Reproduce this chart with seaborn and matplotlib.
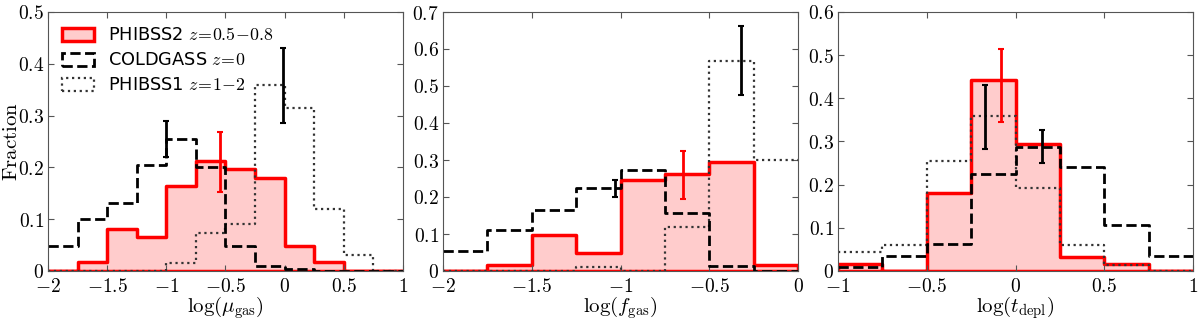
import numpy as np
import matplotlib
matplotlib.use('Agg')
import matplotlib.pyplot as plt
import matplotlib.patches as mpatches
from matplotlib.ticker import FuncFormatter, MultipleLocator
import seaborn as sns

# bin edges of each panel
edges_mu = np.arange(-2.0, 1.001, 0.25)
edges_f = np.arange(-2.0, 0.001, 0.25)
edges_t = np.arange(-1.0, 1.001, 0.25)

# fractions per bin
phibss2_mu = [0, 0.017, 0.082, 0.066, 0.164, 0.213, 0.197, 0.180, 0.049, 0.017, 0, 0]
coldgass_mu = [0.049, 0.100, 0.131, 0.205, 0.254, 0.200, 0.049, 0.010, 0.003, 0, 0, 0]
phibss1_mu = [0, 0, 0, 0, 0.016, 0.074, 0.090, 0.360, 0.315, 0.120, 0.030, 0]

phibss2_f = [0, 0.016, 0.098, 0.049, 0.246, 0.262, 0.295, 0.016]
coldgass_f = [0.053, 0.110, 0.165, 0.223, 0.272, 0.157, 0.014, 0]
phibss1_f = [0, 0, 0, 0.012, 0, 0.118, 0.567, 0.300]

phibss2_t = [0.016, 0, 0.180, 0.443, 0.295, 0.033, 0.016, 0]
coldgass_t = [0.010, 0.035, 0.063, 0.224, 0.288, 0.240, 0.107, 0.035]
phibss1_t = [0.045, 0.060, 0.254, 0.358, 0.193, 0.060, 0.013, 0]

# error bars: (x, y, err, colour)
err_mu = [(-1.0, 0.255, 0.035, 'k'), (-0.55, 0.210, 0.058, 'r'), (-0.01, 0.358, 0.073, 'k')]
err_f = [(-1.03, 0.223, 0.023, 'k'), (-0.65, 0.260, 0.065, 'r'), (-0.32, 0.568, 0.093, 'k')]
err_t = [(-0.17, 0.357, 0.074, 'k'), (-0.08, 0.430, 0.085, 'r'), (0.15, 0.288, 0.038, 'k')]

plt.rcParams['mathtext.fontset'] = 'cm'
plt.rcParams['font.family'] = ['DejaVu Sans']

fig = plt.figure(figsize=(12, 3.19), dpi=100)
lefts = [48, 443, 838]
axes = [fig.add_axes([l / 1200, 48 / 319, 355 / 1200, 259 / 319]) for l in lefts]

panels = [
    (edges_mu, phibss2_mu, coldgass_mu, phibss1_mu, err_mu, (-2, 1), 0.5, r'$\log(\mu_{\rm gas})$'),
    (edges_f, phibss2_f, coldgass_f, phibss1_f, err_f, (-2, 0), 0.7, r'$\log(f_{\rm gas})$'),
    (edges_t, phibss2_t, coldgass_t, phibss1_t, err_t, (-1, 1), 0.6, r'$\log(t_{\rm depl})$'),
]

fmt = FuncFormatter(lambda v, p: '$%g$' % round(v, 2))

for ax, (edges, p2, cg, p1, errs, xlim, ymax, xlabel) in zip(axes, panels):
    centers = list((edges[:-1] + edges[1:]) / 2)
    hk = dict(binwidth=0.25, binrange=(float(edges[0]), float(edges[-1])), element='step', ax=ax)
    sns.histplot(x=centers, weights=list(p1), fill=False,
                 color='#333333', linestyle=':', linewidth=1.6, **hk)
    sns.histplot(x=centers, weights=list(cg), fill=False,
                 color='black', linestyle='--', linewidth=2.0, **hk)
    sns.histplot(x=centers, weights=list(p2), fill=True,
                 facecolor='#ffcccc', edgecolor='red', linewidth=2.5, **hk)
    for x, y, e, c in errs:
        ax.errorbar(x, y, yerr=e, color='red' if c == 'r' else 'black', lw=2,
                    capsize=2, capthick=1.5, zorder=5)
    ax.set_xlim(*xlim)
    ax.set_ylim(0, ymax)
    ax.xaxis.set_major_locator(MultipleLocator(0.5))
    ax.yaxis.set_major_locator(MultipleLocator(0.1))
    ax.xaxis.set_major_formatter(fmt)
    ax.yaxis.set_major_formatter(fmt)
    ax.tick_params(direction='in', top=True, right=True, length=4, labelsize=14, pad=3,
                   color='#555555')
    ax.tick_params(axis='x', pad=4)
    for s in ax.spines.values():
        s.set_color('#555555')
    ax.set_xlabel(xlabel, fontsize=15, labelpad=-1)
    ax.set_ylabel('')

axes[0].set_ylabel(r'$\mathrm{Fraction}$', fontsize=15)
axes[0].yaxis.set_label_coords(-0.075, 0.5)

handles = [
    mpatches.Patch(facecolor='#ffcccc', edgecolor='red', linewidth=2.5),
    mpatches.Patch(facecolor='none', edgecolor='black', linestyle='--', linewidth=2.0),
    mpatches.Patch(facecolor='none', edgecolor='#333333', linestyle=':', linewidth=1.6),
]
labels = [r'PHIBSS2 $z\!=\!0.5\!-\!0.8$', r'COLDGASS $z\!=\!0$', r'PHIBSS1 $z\!=\!1\!-\!2$']
axes[0].legend(handles, labels, loc='upper left', frameon=False, fontsize=12.8,
               handlelength=1.8, handleheight=0.75, borderaxespad=0.4, labelspacing=0.4,
               handletextpad=0.8)

fig.savefig('out.png', dpi=100)
